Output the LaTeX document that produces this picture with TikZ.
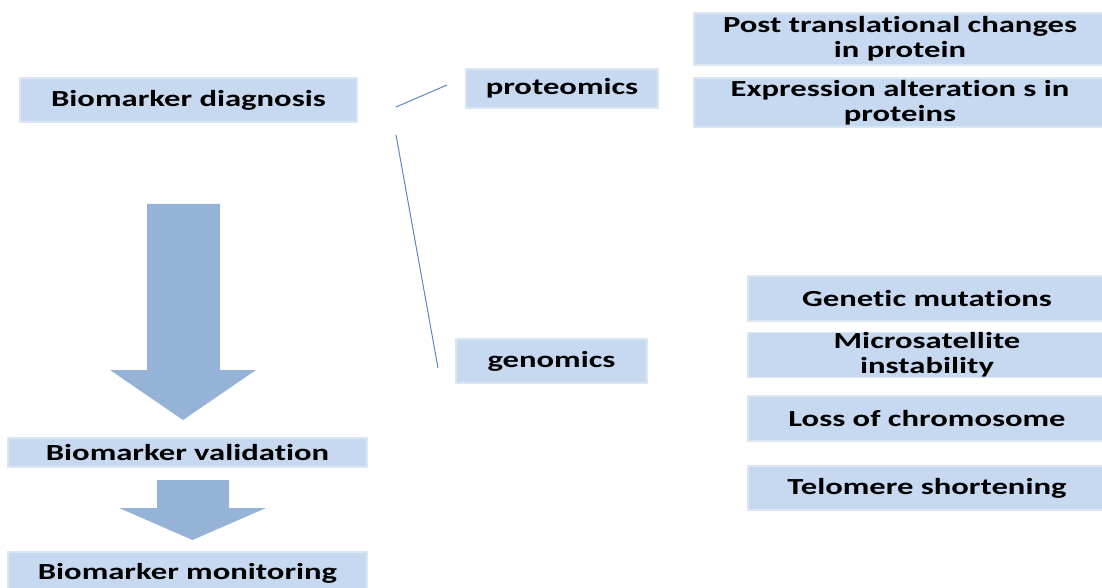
\documentclass[tikz,border=0pt]{standalone}
\usepackage{fontspec}
\setmainfont{Carlito}[Ligatures=NoCommon]
\usepackage{tikz}
\usetikzlibrary{positioning}

\definecolor{boxblue}{HTML}{C6D9F1}
\definecolor{boxedge}{HTML}{DCE6F2}
\definecolor{arrowblue}{HTML}{95B3D7}
\definecolor{linkblue}{HTML}{5B88C4}

\newcommand{\wide}[1]{\scalebox{1.42}[1]{#1}}

\begin{document}
\begin{tikzpicture}[x=1pt,y=1pt,
		box/.style={rectangle,fill=boxblue,draw=boxedge,line width=1.5pt,inner sep=0pt,
			align=center,font=\bfseries\fontsize{23}{25}\selectfont},
		link/.style={draw=linkblue,line width=1pt}]
		\useasboundingbox (0,0) rectangle (1102,587);
		%
		\node[box,minimum width=337,minimum height=44] (diag) at (188.5,487) {\wide{Biomarker diagnosis}};
		\node[box,minimum width=359,minimum height=29] (valid) at (187.5,134.5) {\wide{Biomarker validation}};
		\node[box,minimum width=359,minimum height=42] (monit) at (187.5,14) {\wide{Biomarker monitoring}};
		%
		\node[box,minimum width=192,minimum height=39] (prot) at (562,498.5) {\wide{proteomics}};
		\node[box,minimum width=191,minimum height=44] (genom) at (551.5,226) {\wide{genomics}};
		%
		\node[box,minimum width=412,minimum height=52] (ptc) at (900,548) {\wide{Post translational changes}\\\wide{in protein}};
		\node[box,minimum width=412,minimum height=49] (expr) at (900,484.5) {\wide{Expression alteration s in}\\\wide{proteins}};
		%
		\node[box,minimum width=358,minimum height=45] (genmut) at (927,288.5) {\wide{Genetic mutations}};
		\node[box,minimum width=358,minimum height=44] (msi) at (927,232) {\wide{Microsatellite}\\\wide{instability}};
		\node[box,minimum width=358,minimum height=45] (loss) at (927,168.5) {\wide{Loss of chromosome}};
		\node[box,minimum width=358,minimum height=44] (telo) at (927,99) {\wide{Telomere shortening}};
		%
		\coordinate (protfrom) at (396,480);
		\coordinate (protto) at (447,502);
		\coordinate (genfrom) at (396,452);
		\coordinate (gento) at (438,219);
		\path[link] (protfrom) -- (protto);
		\path[link] (genfrom) -- (gento);
		%
		\fill[arrowblue] (147,383) -- (220,383) -- (220,217) -- (256,217) -- (183,167)
			-- (110,217) -- (147,217) -- cycle;
		\fill[arrowblue] (157,107) -- (229,107) -- (229,79) -- (266,79) -- (192.5,47)
			-- (119,79) -- (157,79) -- cycle;
\end{tikzpicture}
\end{document}
